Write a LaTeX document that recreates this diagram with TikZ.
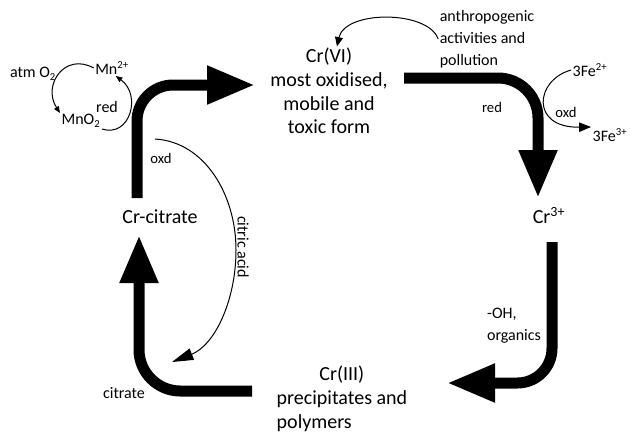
\documentclass[tikz,border=0pt]{standalone}
\usepackage{fontspec}
\setmainfont{Carlito}
\usetikzlibrary{arrows.meta, positioning}
\tikzset{
    mainlabel/.style={
        font=\fontsize{15}{17.8}\selectfont, align=center, inner sep=1pt
    },
    smalllabel/.style={
        font=\fontsize{12}{16.5}\selectfont, inner sep=1pt
    },
    tinylabel/.style={
        font=\fontsize{11}{13}\selectfont, inner sep=1pt
    },
    bigarrow/.style={
        line width=8.25pt, -{Triangle[length=36pt, width=27pt]}, draw=black
    },
    thinarrow/.style={
        line width=0.75pt, -{Triangle[length=7pt, width=6pt]}, draw=black
    }
}
\begin{document}
\begin{tikzpicture}[x=0.75pt, y=-0.75pt]
    \useasboundingbox (0,0) rectangle (630,433);

    % Formas del cromo
    \node[mainlabel] (crvi) at (329,91) {Cr(VI)\\most oxidised,\\mobile and\\toxic form};
    \node[mainlabel] (cr3) at (549,216) {Cr\textsuperscript{3+}};
    \node[mainlabel, align=left] (criii) at (342,399) {\hspace*{32pt}Cr(III)\\precipitates and\\polymers};
    \node[mainlabel] (crcit) at (160,217) {Cr-citrate};

    % Extremos de las flechas gruesas
    \coordinate (crcit top) at (137,198);
    \coordinate (crvi in) at (255,85);
    \coordinate (crvi out) at (404,78);
    \coordinate (cr3 in) at (538,198);
    \coordinate (cr3 out) at (552,242);
    \coordinate (criii in) at (447,383);
    \coordinate (criii out) at (252,391);
    \coordinate (crcit in) at (139,235);

    % Ciclo principal
    \draw[bigarrow, rounded corners=27pt] (crcit top) |- (crvi in);
    \draw[bigarrow, rounded corners=30pt] (crvi out) -| (cr3 in);
    \draw[bigarrow, rounded corners=26pt] (cr3 out) |- (criii in);
    \draw[bigarrow, rounded corners=31pt] (criii out) -| (crcit in);

    % Etiquetas de las reacciones
    \node[tinylabel] (oxd1) at (161,158) {oxd};
    \node[smalllabel, rotate=-90] (citric) at (243,247) {citric acid};
    \node[smalllabel] (citrate) at (124,393) {citrate};
    \node[tinylabel] (red1) at (492,107) {red};
    \node[smalllabel, align=left] (oh) at (514,326) {-OH,\\organics};
    \node[smalllabel, align=left] (anthro) at (487,39) {anthropogenic\\activities and\\pollution};

    % Hierro
    \node[smalllabel] (fe2) at (590,70) {3Fe\textsuperscript{2+}};
    \node[smalllabel] (fe3) at (610,135) {3Fe\textsuperscript{3+}};
    \node[tinylabel] (oxd2) at (566,112) {oxd};

    % Manganeso
    \node[smalllabel] (atmo) at (33,74) {atm O\textsubscript{2}};
    \node[smalllabel] (mn2) at (112,68) {Mn\textsuperscript{2+}};
    \node[smalllabel] (red2) at (107,107) {red};
    \node[smalllabel] (mno2) at (81,121) {MnO\textsubscript{2}};

    % Flechas finas
    \coordinate (citric start) at (155,139);
    \coordinate (citric end) at (172,362);
    \draw[thinarrow, -{Triangle[length=16pt, width=9pt]}] (citric start) .. controls (205,142) and (236,195) .. (236,250) .. controls (236,300) and (215,345) .. (citric end);
    \draw[thinarrow] (anthro.west) .. controls (428,10) and (345,10) .. ([xshift=6pt]crvi.north);
    \draw[thinarrow, -{Triangle[length=9pt, width=7pt]}] (fe2.west) .. controls (535,80) and (530,128) .. (fe3.north west);
    \draw[thinarrow, -{Triangle[length=5pt, width=4pt]}] (mn2.west) .. controls (65,52) and (42,85) .. (mno2.north west);
    \draw[thinarrow, -{Triangle[length=5pt, width=4pt]}] (mno2.south east) .. controls (130,138) and (142,95) .. (mn2.-65);
\end{tikzpicture}
\end{document}
